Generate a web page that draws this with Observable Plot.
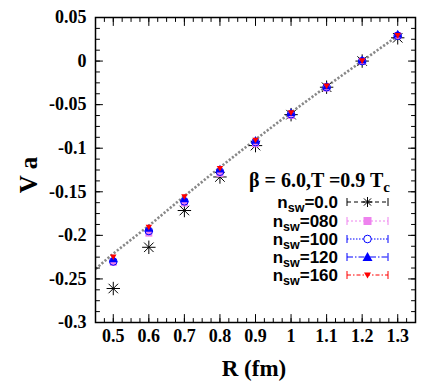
<!DOCTYPE html>
<html><head><meta charset="utf-8">
<script src="https://cdn.jsdelivr.net/npm/d3@7"></script>
<script src="https://cdn.jsdelivr.net/npm/@observablehq/plot@0.6"></script>
<style>body{margin:0;background:#fff}</style>
</head><body><div id="chart"></div>
<script>
const R = [0.5,0.6,0.7,0.8,0.9,1.0,1.1,1.2,1.3];
const nsw000 = [-0.261,-0.2137,-0.1715,-0.133,-0.097,-0.0615,-0.030,0.000,0.0267];
const nsw080 = [-0.231,-0.1975,-0.163,-0.129,-0.095,-0.0625,-0.031,-0.0005,0.029];
const nsw100 = [-0.230,-0.195,-0.161,-0.127,-0.093,-0.061,-0.030,0.000,0.029];
const nsw120 = [-0.228,-0.193,-0.159,-0.125,-0.092,-0.060,-0.0295,0.0005,0.030];
const nsw160 = [-0.224,-0.190,-0.155,-0.1225,-0.090,-0.0587,-0.028,0.001,0.030];
const fitR = [0.45,0.5,0.6,0.7,0.8,0.9,1.0,1.1,1.2,1.3];
const fitV = [-0.2385,-0.221,-0.189,-0.155,-0.122,-0.090,-0.059,-0.029,0.0,0.029];
const xMajor = [0.5,0.6,0.7,0.8,0.9,1.0,1.1,1.2,1.3];
const yMajor = [-0.3,-0.25,-0.2,-0.15,-0.1,-0.05,0,0.05];
const xDomain = [0.45,1.35];
const yDomain = [-0.3,0.05];
const xMinor = d3.range(0,37).map(i => +(0.45 + i*0.025).toFixed(4));
const yMinor = d3.range(0,29).map(i => +(-0.3 + i*0.0125).toFixed(4));
const legendLabels = ["0.0","080","100","120","160"];

const fmt = d => String(+d.toFixed(2));
const pts = (vals) => R.map((r,i) => ({R:r, V:vals[i]}));
const fit = fitR.map((r,i) => ({R:r, V:fitV[i]}));
const tickShape = {draw(ctx, l){ ctx.moveTo(0,0); ctx.lineTo(0,-l); }};
function ticks(vals, len, side){
  const o = {stroke:"#000", strokeWidth:1, shape:tickShape, anchor:"start", length:len};
  if (side==="bottom") return Plot.vector(vals,{...o, x:d=>d, y:()=>yDomain[0], rotate:0});
  if (side==="top") return Plot.vector(vals,{...o, x:d=>d, y:()=>yDomain[1], rotate:180});
  if (side==="left") return Plot.vector(vals,{...o, y:d=>d, x:()=>xDomain[0], rotate:90});
  return Plot.vector(vals,{...o, y:d=>d, x:()=>xDomain[1], rotate:-90});
}
const serif = "'Liberation Serif', 'Times New Roman', serif";
const sans = "'Liberation Sans', Arial, sans-serif";

const plot = Plot.plot({
  width:436, height:382,
  marginLeft:95, marginRight:21, marginTop:17, marginBottom:60,
  x:{domain:xDomain},
  y:{domain:yDomain},
  style:{background:"#fff"},
  marks:[
    Plot.line(fit,{x:"R", y:"V", stroke:"#888", strokeWidth:2.6, strokeDasharray:"2.2,1.8", strokeLinecap:"butt"}),
    Plot.dot(pts(nsw000),{x:"R", y:"V", symbol:"plus", r:4.4, stroke:"#000", strokeWidth:1}),
    Plot.dot(pts(nsw000),{x:"R", y:"V", symbol:"times", r:4.4, stroke:"#000", strokeWidth:1}),
    Plot.dot(pts(nsw080),{x:"R", y:"V", symbol:"square", r:3.9, fill:"violet", stroke:"none"}),
    Plot.dot(pts(nsw100),{x:"R", y:"V", symbol:"circle", r:3.8, stroke:"#0000ff", fill:"none", strokeWidth:1}),
    Plot.dot(pts(nsw120),{x:"R", y:"V", symbol:"triangle", r:3.3, fill:"#0000ff", stroke:"none"}),
    Plot.dot(pts(nsw160),{x:"R", y:"V", symbol:"triangle", r:2.4, fill:"#ff0000", stroke:"none", rotate:180}),
    ticks(xMinor,4,"bottom"), ticks(xMinor,4,"top"),
    ticks(xMajor,8,"bottom"), ticks(xMajor,8,"top"),
    ticks(yMinor,4,"left"), ticks(yMinor,4,"right"),
    ticks(yMajor,7,"left"), ticks(yMajor,7,"right"),
    Plot.frame({stroke:"#000", strokeWidth:1.5}),
    Plot.axisX(xMajor,{tickSize:0, tickPadding:7, tickFormat:fmt, fontSize:18, fontFamily:serif, fontWeight:"bold", fill:"#000", label:null}),
    Plot.axisY(yMajor,{tickSize:0, tickPadding:9, tickFormat:fmt, fontSize:18, fontFamily:serif, fontWeight:"bold", fill:"#000", label:null})
  ]
});
document.getElementById("chart").appendChild(plot);

const svg = d3.select(plot);
svg.append("text").attr("transform","translate(37,175) rotate(-90)")
  .attr("text-anchor","middle").attr("font-family",serif).attr("font-weight","bold")
  .attr("font-size",25).attr("fill","#000").text("V a");
svg.append("text").attr("x",254).attr("y",376)
  .attr("text-anchor","middle").attr("font-family",serif).attr("font-weight","bold")
  .attr("font-size",23).attr("fill","#000").text("R (fm)");

// legend title
const t = svg.append("text").attr("x",249).attr("y",187).attr("text-anchor","start").attr("font-family",serif)
  .attr("font-weight","bold").attr("font-size",20).attr("fill","#000");
t.append("tspan").text("β = 6.0,T =0.9 T");
t.append("tspan").attr("dy",5).attr("font-size",15).text("c");

const styles = [
  {stroke:"#000", dash:"4,3"},
  {stroke:"violet", dash:"2,2"},
  {stroke:"#0000ff", dash:"1.5,1.5"},
  {stroke:"#0000ff", dash:"6,2,1.5,2"},
  {stroke:"#ff0000", dash:"4,2,1.5,2"}
];
const rowY = [202,221,239,257,275];
legendLabels.forEach((lab,i) => {
  const y = rowY[i];
  const tx = svg.append("text").attr("x",338).attr("y",y+6).attr("text-anchor","end")
    .attr("font-family",sans).attr("font-weight","bold").attr("font-size",17).attr("fill","#000");
  tx.append("tspan").text("n");
  tx.append("tspan").attr("dy",4).attr("font-size",12.5).text("sw");
  tx.append("tspan").attr("dy",-4).text("="+lab);
  const s = styles[i];
  const g = svg.append("g").attr("stroke",s.stroke).attr("fill","none").attr("stroke-width",1);
  g.append("line").attr("x1",347).attr("x2",388).attr("y1",y).attr("y2",y).attr("stroke-dasharray",s.dash);
  g.append("line").attr("x1",347).attr("x2",347).attr("y1",y-4).attr("y2",y+4);
  g.append("line").attr("x1",388).attr("x2",388).attr("y1",y-4).attr("y2",y+4);
  const cx = 367.5;
  if (i===0) {
    g.append("path").attr("stroke","#000").attr("d",`M${cx-5},${y}h10M${cx},${y-5}v10M${cx-3.6},${y-3.6}l7.2,7.2M${cx-3.6},${y+3.6}l7.2,-7.2`);
  } else if (i===1) {
    g.append("rect").attr("x",cx-4).attr("y",y-4).attr("width",8).attr("height",8).attr("fill","violet").attr("stroke","none");
  } else if (i===2) {
    g.append("circle").attr("cx",cx).attr("cy",y).attr("r",3.8).attr("fill","#fff");
  } else if (i===3) {
    g.append("path").attr("d",`M${cx},${y-5}L${cx+5},${y+4}L${cx-5},${y+4}Z`).attr("fill","#0000ff").attr("stroke","none");
  } else {
    g.append("path").attr("d",`M${cx},${y+3.5}L${cx+3.5},${y-2.5}L${cx-3.5},${y-2.5}Z`).attr("fill","#ff0000").attr("stroke","none");
  }
});
</script></body></html>
